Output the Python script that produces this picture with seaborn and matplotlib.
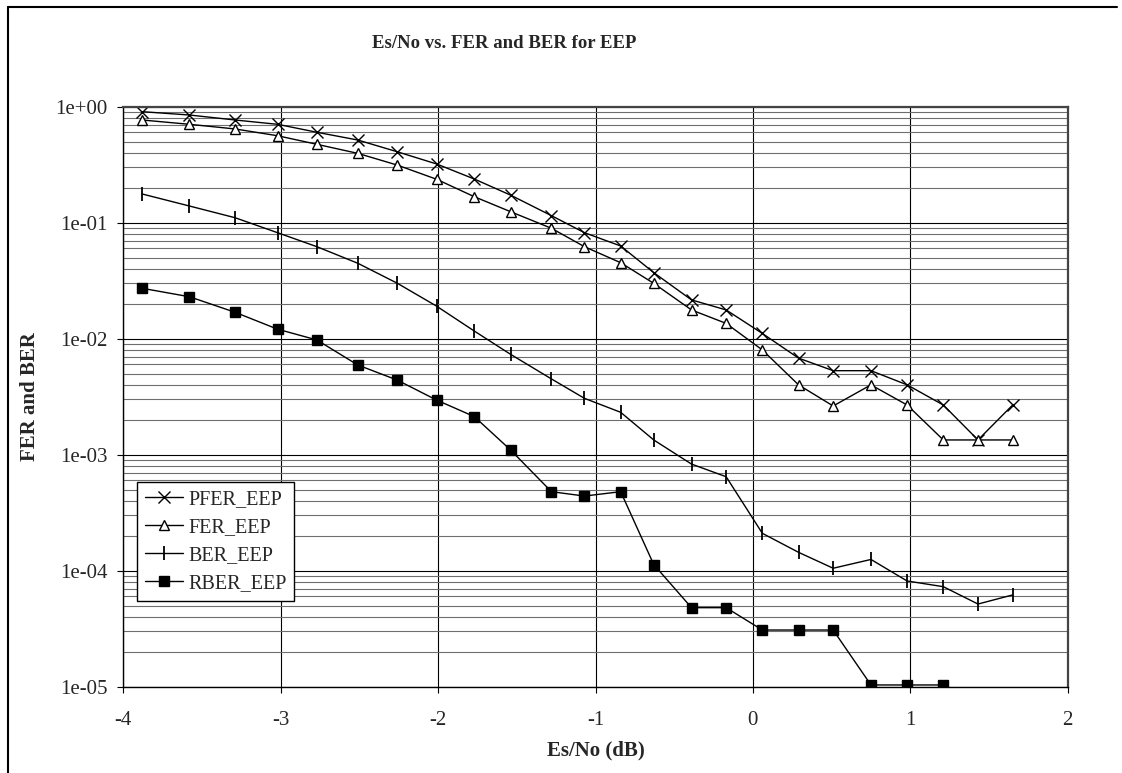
import matplotlib
matplotlib.use("Agg")
import matplotlib.pyplot as plt
from matplotlib.lines import Line2D
from matplotlib.ticker import LogLocator, NullFormatter
import pandas as pd
import seaborn as sns

sns.set_theme(style="white")
plt.rcParams["font.family"] = ["Liberation Serif", "DejaVu Serif"]

# Es/No (dB) for each measured point
esno = [-3.88, -3.58, -3.29, -3.02, -2.77, -2.51, -2.26, -2.01, -1.77, -1.54, -1.28, -1.07,
        -0.84, -0.63, -0.39, -0.17, 0.06, 0.29, 0.51, 0.75, 0.98, 1.21, 1.43, 1.65]

pfer = [0.906, 0.848, 0.768, 0.705, 0.602, 0.516, 0.409, 0.321, 0.238, 0.173, 0.115, 0.082,
        0.063, 0.0371, 0.0216, 0.0177, 0.0111, 0.0068, 0.0053, 0.0053, 0.0040, 0.00268, 0.00134, 0.00268]
fer = [0.768, 0.705, 0.643, 0.562, 0.474, 0.396, 0.314, 0.237, 0.1675, 0.1245, 0.0895, 0.0621,
       0.0452, 0.0300, 0.0177, 0.01355, 0.0080, 0.0040, 0.00263, 0.0040, 0.00268, 0.00134, 0.00134, 0.00134]
ber = [0.1768, 0.1393, 0.1104, 0.082, 0.0621, 0.0447, 0.0301, 0.0191, 0.01164, 0.00734, 0.0045, 0.00306,
       0.00232, 0.00134, 0.00083, 0.000646, 0.00021, 0.000144, 0.000105, 0.000125, 8.15e-5, 7.28e-5, 5.16e-5, 6.18e-5]
rber = [0.0272, 0.0230, 0.0169, 0.01208, 0.00975, 0.00593, 0.0044, 0.00296, 0.00213, 0.0011, 0.00048, 0.00044,
        0.00048, 0.000113, 4.8e-5, 4.8e-5, 3.08e-5, 3.08e-5, 3.08e-5, 1.035e-5, 1.035e-5, 1.035e-5]

xticks = [-4, -3, -2, -1, 0, 1, 2]
yticks = [1e-5, 1e-4, 1e-3, 1e-2, 1e-1, 1e0]
ytick_labels = ["1e-05", "1e-04", "1e-03", "1e-02", "1e-01", "1e+00"]

df_pfer = pd.DataFrame({"x": esno, "y": pfer})
df_fer = pd.DataFrame({"x": esno, "y": fer})
df_ber = pd.DataFrame({"x": esno, "y": ber})
df_rber = pd.DataFrame({"x": esno[:len(rber)], "y": rber})

W, H = 1122, 773
fig = plt.figure(figsize=(W / 100, H / 100), dpi=100)
ax = fig.add_axes([123.3 / W, 1 - 686.7 / H, (1067.7 - 123.3) / W, (686.7 - 106.7) / H])

common = dict(color="black", linewidth=1.0, markeredgecolor="black", ax=ax)
sns.lineplot(data=df_pfer, x="x", y="y", marker="x", markersize=8.5, markeredgewidth=1.0,
             label="PFER_EEP", **common)
sns.lineplot(data=df_fer, x="x", y="y", marker="^", markersize=7.5, markeredgewidth=1.0,
             markerfacecolor="white", label="FER_EEP", **common)
sns.lineplot(data=df_ber, x="x", y="y", marker="|", markersize=9.5, markeredgewidth=1.3,
             label="BER_EEP", **common)
sns.lineplot(data=df_rber, x="x", y="y", marker="s", markersize=6.5, markeredgewidth=1.0,
             markerfacecolor="black", label="RBER_EEP", **common)

ax.set_yscale("log")
ax.set_xlim(-4, 2)
ax.set_ylim(1e-5, 1)
ax.set_xticks(xticks, labels=[str(t) for t in xticks])
ax.set_yticks(yticks, labels=ytick_labels)
ax.yaxis.set_minor_locator(LogLocator(base=10, subs=range(2, 10), numticks=20))
ax.yaxis.set_minor_formatter(NullFormatter())

ax.grid(True, which="major", axis="both", color="black", linewidth=0.8)
ax.grid(True, which="minor", axis="y", color="#6e6e6e", linewidth=0.8)
ax.set_axisbelow(True)

ax.tick_params(axis="both", which="major", direction="out", length=4.5, width=0.8,
               color="black", labelsize=15, bottom=True, left=True)
ax.tick_params(axis="x", which="major", pad=13)
ax.tick_params(axis="y", which="major", pad=7)
ax.tick_params(which="minor", length=0)
for side in ["left", "bottom"]:
    ax.spines[side].set_color("black")
    ax.spines[side].set_linewidth(1.0)
for side in ["top", "right"]:
    ax.spines[side].set_color("#444444")
    ax.spines[side].set_linewidth(1.6)

ax.set_xlabel("Es/No (dB)", fontsize=15, fontweight="bold")
ax.set_ylabel("FER and BER", fontsize=15, fontweight="bold")
ax.xaxis.label.set_va("center")
ax.xaxis.set_label_coords(0.5, (686.7 - 750) / 580)
ax.yaxis.label.set_va("center")
ax.yaxis.set_label_coords((30 - 123.3) / 944.4, 0.5)

fig.text(504 / W, 1 - 44 / H, "Es/No vs. FER and BER for EEP", ha="center", va="center",
         fontsize=13.5, fontweight="bold")

leg = ax.legend(loc="upper left", bbox_to_anchor=(136.7 / W, 1 - 481.7 / H),
                bbox_transform=fig.transFigure, borderaxespad=0, fontsize=14.5,
                frameon=True, fancybox=False, framealpha=1, edgecolor="black",
                handlelength=1.9, handletextpad=0.25, labelspacing=0.45, borderpad=0.4)
leg.get_frame().set_linewidth(1.0)

# outer chart frame (top and left edges are visible in the original)
fig.add_artist(Line2D([8 / W, 1117 / W], [1 - 7 / H, 1 - 7 / H], transform=fig.transFigure,
                      color="black", linewidth=1.5))
fig.add_artist(Line2D([8 / W, 8 / W], [0, 1 - 7 / H], transform=fig.transFigure,
                      color="black", linewidth=1.5))

fig.savefig("out.png", dpi=100)
